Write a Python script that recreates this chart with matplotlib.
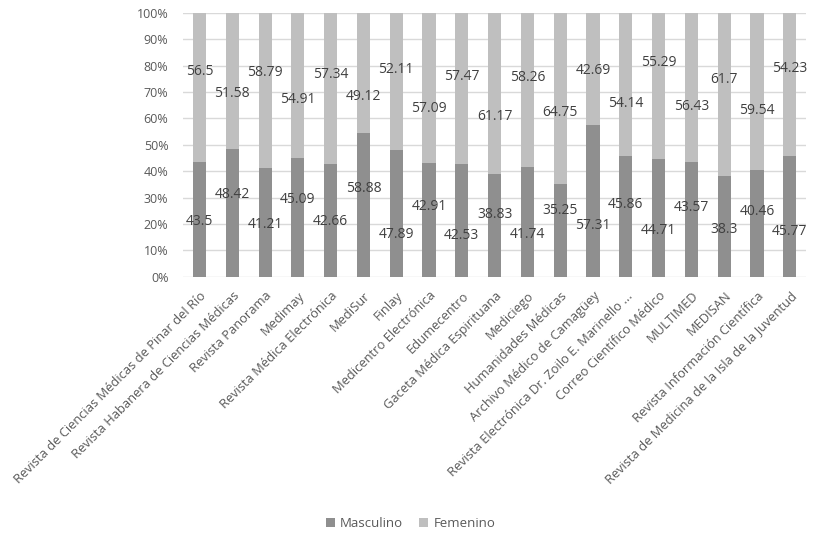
import numpy as np
import matplotlib
matplotlib.use("Agg")
import matplotlib.pyplot as plt
from matplotlib.ticker import FuncFormatter

revistas = [
    "Revista de Ciencias Médicas de Pinar del Río",
    "Revista Habanera de Ciencias Médicas",
    "Revista Panorama",
    "Medimay",
    "Revista Médica Electrónica",
    "MediSur",
    "Finlay",
    "Medicentro Electrónica",
    "Edumecentro",
    "Gaceta Médica Espirituana",
    "Mediciego",
    "Humanidades Médicas",
    "Archivo Médico de Camagüey",
    "Revista Electrónica Dr. Zoilo E. Marinello ...",
    "Correo Científico Médico",
    "MULTIMED",
    "MEDISAN",
    "Revista Información Científica",
    "Revista de Medicina de la Isla de la Juventud",
]
masculino = [43.5, 48.42, 41.21, 45.09, 42.66, 58.88, 47.89, 42.91, 42.53, 38.83,
             41.74, 35.25, 57.31, 45.86, 44.71, 43.57, 38.3, 40.46, 45.77]
femenino = [56.5, 51.58, 58.79, 54.91, 57.34, 49.12, 52.11, 57.09, 57.47, 61.17,
            58.26, 64.75, 42.69, 54.14, 55.29, 56.43, 61.7, 59.54, 54.23]

# label nudges (in % units) relative to the segment centre, as in the original
off_m = [-0.9, 7.1, -0.8, 6.8, -0.5, 6.2, -8.1, 5.0, -5.5, 4.2,
         -4.8, 7.4, -9.1, 4.5, -5.0, 4.3, -1.1, 4.4, -5.9]
off_f = [5.9, -4.7, 6.8, -5.6, 5.2, -9.1, 4.4, -7.7, 4.7, -8.8,
         4.5, -5.3, -0.7, -7.5, 8.7, -7.4, 5.7, -7.4, 5.8]

m = np.array(masculino)
f = np.array(femenino)
tot = m + f
pm = m / tot * 100
pf = f / tot * 100
x = np.arange(len(revistas))

plt.rcParams["font.family"] = ["Open Sans", "DejaVu Sans"]

fig = plt.figure(figsize=(8.21, 5.39), dpi=100)
ax = fig.add_axes([0.223, 0.4866, 0.759, 0.4898])

c_m = "#8f8f8f"
c_f = "#bfbfbf"
ax.bar(x, pm, width=0.4, color=c_m, label="Masculino", zorder=2)
ax.bar(x, pf, width=0.4, bottom=pm, color=c_f, label="Femenino", zorder=2)

for i in range(len(x)):
    ax.text(x[i], pm[i] / 2 + off_m[i], f"{masculino[i]:g}", ha="center", va="center",
            fontsize=10, color="#404040", zorder=3)
    ax.text(x[i], pm[i] + pf[i] / 2 + off_f[i], f"{femenino[i]:g}", ha="center", va="center",
            fontsize=10, color="#404040", zorder=3)

ax.set_xlim(-0.5, 18.5)
ax.set_ylim(0, 100)
ax.set_yticks(np.arange(0, 101, 10))
ax.yaxis.set_major_formatter(FuncFormatter(lambda v, p: f"{v:.0f}%"))
ax.grid(axis="y", color="#d9d9d9", linewidth=1, zorder=0)
ax.set_axisbelow(True)
for s in ax.spines.values():
    s.set_visible(False)
ax.tick_params(axis="y", length=0, labelsize=9, colors="#595959", pad=10.5)

ax.set_xticks(x)
ax.set_xticklabels(revistas, rotation=45, ha="right", rotation_mode="anchor")
ax.tick_params(axis="x", length=0, labelsize=9.3, colors="#595959", pad=9)

fig.legend(loc="lower center", bbox_to_anchor=(0.5, -0.005), ncol=2, frameon=False,
           fontsize=9.5, labelcolor="#595959", handlelength=0.7, handleheight=0.7,
           columnspacing=1.2, handletextpad=0.4)

fig.savefig("out.png", dpi=100)
